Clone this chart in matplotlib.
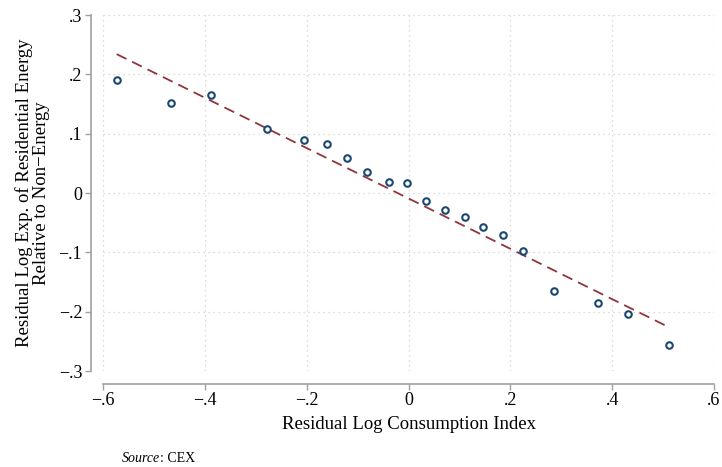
import matplotlib
matplotlib.use("Agg")
import matplotlib.pyplot as plt
import numpy as np

# binned residuals
bin_x = [-0.572, -0.466, -0.387, -0.277, -0.206, -0.161, -0.120, -0.081, -0.039, -0.002,
         0.035, 0.072, 0.110, 0.147, 0.185, 0.225, 0.286, 0.373, 0.431, 0.511]
bin_y = [0.191, 0.152, 0.165, 0.108, 0.089, 0.083, 0.059, 0.035, 0.019, 0.017,
         -0.013, -0.029, -0.040, -0.057, -0.071, -0.097, -0.165, -0.185, -0.204, -0.257]

# fitted line endpoints
fit_x = [-0.573, 0.511]
fit_y = [0.234, -0.226]

x_ticks = [-0.6, -0.4, -0.2, 0, 0.2, 0.4, 0.6]
x_labels = ["\u2212.6", "\u2212.4", "\u2212.2", "0", ".2", ".4", ".6"]
y_ticks = [-0.3, -0.2, -0.1, 0, 0.1, 0.2, 0.3]
y_labels = ["\u2212.3", "\u2212.2", "\u2212.1", "0", ".1", ".2", ".3"]

plt.rcParams["font.family"] = ["Liberation Serif", "DejaVu Serif"]

W, H = 722, 467
fig = plt.figure(figsize=(W / 100, H / 100), dpi=100)
ax = fig.add_axes([103 / W, 1 - 371 / H, (714 - 103) / W, (371 - 15) / H])

ax.plot(fit_x, fit_y, color="#90353b", lw=1.3, dashes=(6, 3.5), zorder=2)
ax.scatter(bin_x, bin_y, s=22, facecolors="white", edgecolors="#1a476f",
           linewidths=1.5, zorder=3, clip_on=False)

ax.set_xlim(-0.6, 0.6)
ax.set_ylim(-0.3, 0.3)
ax.set_xticks(x_ticks)
ax.set_xticklabels(x_labels)
ax.set_yticks(y_ticks)
ax.set_yticklabels(y_labels)

ax.grid(True, color="#d0d0d0", linestyle=(0, (1, 3)), linewidth=0.9)
ax.set_axisbelow(True)

for side in ["top", "right"]:
    ax.spines[side].set_visible(False)
ax.spines["left"].set_position(("outward", 9))
ax.spines["bottom"].set_position(("outward", 9))
ax.spines["left"].set_bounds(-0.3, 0.3)
ax.spines["bottom"].set_bounds(-0.6, 0.6)
for side in ["left", "bottom"]:
    ax.spines[side].set_color("#a0a0a0")
    ax.spines[side].set_linewidth(1.2)
ax.tick_params(length=4, color="#a0a0a0", width=1, labelsize=13, pad=2)

ax.set_xlabel("Residual Log Consumption Index", fontsize=13.5, labelpad=5)
ax.set_ylabel("Residual Log Exp. of Residential Energy\nRelative to Non\u2212Energy",
              fontsize=13.5, labelpad=6, linespacing=1.0)

t1 = fig.text(122 / W, 1 - 462 / H, "Source", fontsize=10, style="italic")
ax.annotate(": CEX", xy=(1, 0), xycoords=t1, va="bottom", ha="left", fontsize=10)

fig.savefig("out.png", dpi=100, facecolor="white")
